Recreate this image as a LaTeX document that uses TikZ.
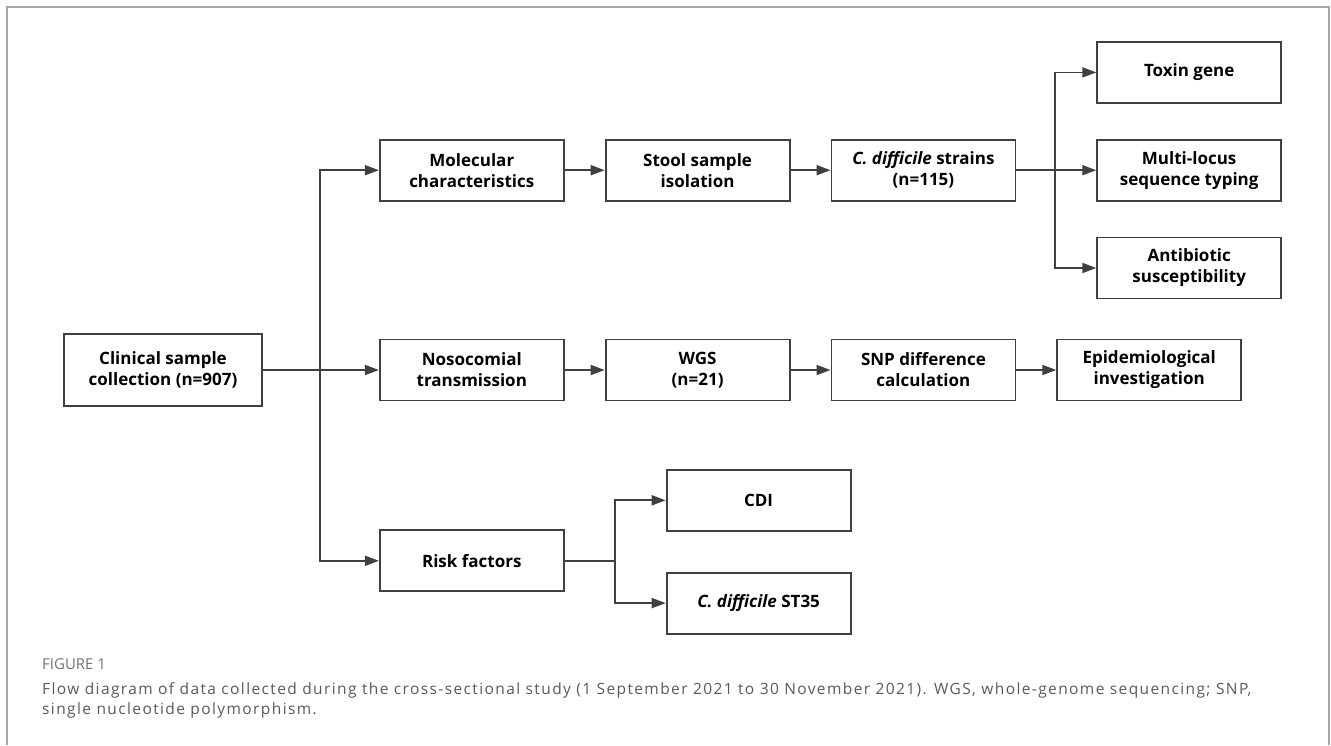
\documentclass[tikz,border=0pt]{standalone}
\usepackage{fontspec}
\setmainfont{Open Sans}
\newfontfamily\capfont[LetterSpace=9]{Open Sans}
\usetikzlibrary{arrows.meta,positioning}

\begin{document}
\begin{tikzpicture}[
  x=1pt, y=1pt,
  font=\fontsize{17}{21}\selectfont\bfseries,
  >={Triangle[length=14pt,width=10pt]},
  node distance=40pt,
  box/.style={draw=black!75, line width=1.8pt, minimum width=184pt, minimum height=61pt, align=center, inner sep=2pt},
  link/.style={draw=black!75, line width=1.8pt},
  captext/.style={anchor=base west, align=left, inner sep=0pt, font=\capfont\fontsize{15.5}{20}\selectfont, text=black!65},
  figtext/.style={anchor=base west, inner sep=0pt, font=\fontsize{15}{17}\selectfont, text=black!55},
]
\useasboundingbox (0,0) rectangle (1331,-745);
\draw[black!35, line width=1.2pt] (7,-745) |- (1329,-7) -- (1329,-745);

\node[box, minimum width=198pt, minimum height=72pt] (clin) at (163,-370) {Clinical sample\\ collection (n=907)};
\node[box, right=116pt of clin] (noso) {Nosocomial\\ transmission};
\node[box, right=of noso] (wgs) {WGS\\ (n=21)};
\node[box, right=of wgs] (snp) {SNP difference\\ calculation};
\node[box, right=of snp] (epi) {Epidemiological\\ investigation};

\node[box, above=137pt of noso] (mol) {Molecular\\ characteristics};
\node[box, right=of mol] (stool) {Stool sample\\ isolation};
\node[box, right=of stool] (strain) {\textit{C. difficile} strains\\ (n=115)};
\node[box, right=80pt of strain] (mlst) {Multi-locus\\ sequence typing};
\node[box, above=35pt of mlst] (toxin) {Toxin gene};
\node[box, below=35pt of mlst] (abx) {Antibiotic\\ susceptibility};

\node[box, below=128pt of noso] (risk) {Risk factors};
\node[box, right=101pt of risk, yshift=60.5pt] (cdi) {CDI};
\node[box, below=40pt of cdi] (st35) {\textit{C. difficile} ST35};

\coordinate[right=57pt of clin] (j1);
\coordinate[right=39pt of strain] (j2);
\coordinate[right=50pt of risk] (j3);

\draw[link,->] (clin) -- (noso);
\draw[link,->] (j1) |- (mol);
\draw[link,->] (j1) |- (risk);
\draw[link,->] (mol) -- (stool);
\draw[link,->] (stool) -- (strain);
\draw[link,->] (strain) -- (mlst);
\draw[link,->] (j2) |- (toxin);
\draw[link,->] (j2) |- (abx);
\draw[link,->] (noso) -- (wgs);
\draw[link,->] (wgs) -- (snp);
\draw[link,->] (snp) -- (epi);
\draw[link] (risk) -- (j3);
\draw[link,->] (j3) |- (cdi);
\draw[link,->] (j3) |- (st35);

\node[figtext] (figno) at (42,-669) {FIGURE 1};
\node[captext] (caption) at (42,-714) {Flow diagram of data collected during the cross-sectional study (1 September 2021 to 30 November 2021). WGS, whole-genome sequencing; SNP,\\ single nucleotide polymorphism.};
\end{tikzpicture}
\end{document}
